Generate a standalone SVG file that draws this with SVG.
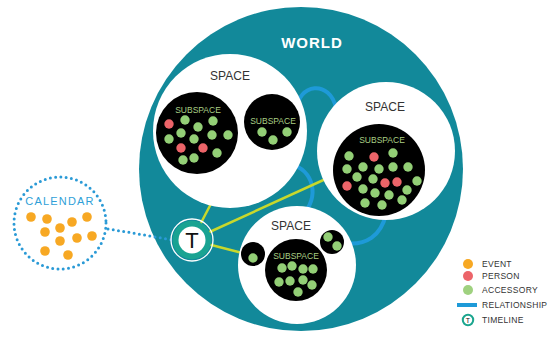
<svg xmlns="http://www.w3.org/2000/svg" width="554" height="338" viewBox="0 0 554 338">
<style>
.world{fill:#12899a}
.space{fill:#ffffff}
.sub{fill:#000000}
.g{fill:#93cf76}
.r{fill:#ec6469}
.o{fill:#f7a823}
.spt{font-family:"Liberation Sans",Arial,sans-serif;font-size:12px;fill:#333333;text-anchor:middle}
.sst{font-family:"Liberation Sans",Arial,sans-serif;font-size:8.5px;fill:#a9cf84;text-anchor:middle}
.rel{fill:none;stroke:#1e9ad8;stroke-width:4;stroke-linecap:round}
.tl{fill:none;stroke:#c8d82c;stroke-width:2.5;stroke-linecap:round}
.dot{fill:none;stroke:#2a9ad6;stroke-width:3;stroke-linecap:round;stroke-dasharray:0 5.3}
.lg{font-family:"Liberation Sans",Arial,sans-serif;font-size:8.5px;fill:#333333;letter-spacing:0.3px}
</style>
<rect width="554" height="338" fill="#ffffff"/>
<g id="world">
<circle class="world" cx="301" cy="169" r="162"/>
<text x="312" y="48" font-family="Liberation Sans,Arial,sans-serif" font-size="15" font-weight="bold" fill="#ffffff" text-anchor="middle" letter-spacing="1">WORLD</text>
</g>
<g id="connectors">
<path class="rel" d="M296,112 C298,82 330,80 336,108"/>
<path class="rel" d="M290,164 C314,170 320,196 302,216"/>
<path class="rel" d="M344,243 C366,246 381,236 386,214"/>
<line class="tl" x1="192" y1="240" x2="214" y2="198"/>
<line class="tl" x1="192" y1="240" x2="330" y2="177"/>
<line class="tl" x1="192" y1="240" x2="250" y2="255"/>
<path class="dot" d="M108,229 Q140,234 172,240"/>
</g>
<g id="space1">
<circle class="space" cx="230" cy="131" r="77"/>
<text class="spt" x="230" y="80">SPACE</text>
<g id="subspace1a">
<circle class="sub" cx="197" cy="133" r="41"/>
<text class="sst" x="198" y="113">SUBSPACE</text>
<circle class="r" cx="169" cy="124" r="4.7"/>
<circle class="g" cx="185" cy="120" r="4.7"/>
<circle class="g" cx="198" cy="127" r="4.7"/>
<circle class="g" cx="213" cy="121" r="4.7"/>
<circle class="g" cx="181" cy="133" r="4.7"/>
<circle class="g" cx="169" cy="139" r="4.7"/>
<circle class="g" cx="194" cy="139" r="4.7"/>
<circle class="g" cx="212" cy="135" r="4.7"/>
<circle class="g" cx="228" cy="135" r="4.7"/>
<circle class="r" cx="181" cy="148" r="4.7"/>
<circle class="r" cx="203" cy="148" r="4.7"/>
<circle class="g" cx="217" cy="153" r="4.7"/>
<circle class="g" cx="183" cy="160" r="4.7"/>
<circle class="g" cx="194" cy="158" r="4.7"/>
</g>
<g id="subspace1b">
<circle class="sub" cx="272" cy="122" r="28"/>
<text class="sst" x="273" y="124">SUBSPACE</text>
<circle class="g" cx="262" cy="132" r="4.7"/>
<circle class="g" cx="273" cy="140" r="4.7"/>
<circle class="g" cx="287" cy="132" r="4.7"/>
</g>
</g>
<g id="space2">
<circle class="space" cx="386" cy="151" r="69"/>
<text class="spt" x="385" y="111">SPACE</text>
<g id="subspace2">
<circle class="sub" cx="379" cy="170" r="46"/>
<text class="sst" x="382" y="143">SUBSPACE</text>
<circle class="g" cx="349" cy="156" r="4.7"/>
<circle class="r" cx="374" cy="157" r="4.7"/>
<circle class="g" cx="393" cy="153" r="4.7"/>
<circle class="g" cx="347" cy="169" r="4.7"/>
<circle class="g" cx="363" cy="167" r="4.7"/>
<circle class="g" cx="379" cy="169" r="4.7"/>
<circle class="g" cx="393" cy="167" r="4.7"/>
<circle class="g" cx="408" cy="167" r="4.7"/>
<circle class="g" cx="357" cy="177" r="4.7"/>
<circle class="g" cx="373" cy="179" r="4.7"/>
<circle class="r" cx="385" cy="183" r="4.7"/>
<circle class="r" cx="397" cy="182" r="4.7"/>
<circle class="g" cx="417" cy="181" r="4.7"/>
<circle class="r" cx="347" cy="186" r="4.7"/>
<circle class="g" cx="363" cy="189" r="4.7"/>
<circle class="g" cx="375" cy="193" r="4.7"/>
<circle class="g" cx="389" cy="195" r="4.7"/>
<circle class="g" cx="407" cy="190" r="4.7"/>
<circle class="g" cx="365" cy="203" r="4.7"/>
<circle class="g" cx="382" cy="205" r="4.7"/>
<circle class="g" cx="402" cy="200" r="4.7"/>
</g>
</g>
<g id="space3">
<circle class="space" cx="297" cy="265" r="59"/>
<text class="spt" x="291" y="230">SPACE</text>
<g id="subspace3a">
<circle class="sub" cx="253" cy="254" r="12"/>
<circle class="g" cx="253" cy="258" r="4.7"/>
</g>
<g id="subspace3b">
<circle class="sub" cx="332" cy="242" r="12"/>
<circle class="g" cx="328" cy="237" r="4.7"/>
<circle class="g" cx="337" cy="246" r="4.7"/>
</g>
<g id="subspace3c">
<circle class="sub" cx="296" cy="270" r="31"/>
<text class="sst" x="296" y="259">SUBSPACE</text>
<circle class="g" cx="282" cy="268" r="4.7"/>
<circle class="g" cx="292" cy="266" r="4.7"/>
<circle class="g" cx="303" cy="269" r="4.7"/>
<circle class="g" cx="313" cy="269" r="4.7"/>
<circle class="g" cx="279" cy="282" r="4.7"/>
<circle class="g" cx="290" cy="281" r="4.7"/>
<circle class="g" cx="303" cy="280" r="4.7"/>
<circle class="g" cx="312" cy="285" r="4.7"/>
<circle class="g" cx="298" cy="292" r="4.7"/>
</g>
</g>
<g id="timeline">
<circle cx="192" cy="240" r="21" fill="none" stroke="#ffffff" stroke-width="1.3"/>
<circle cx="192" cy="240" r="19.3" fill="#19a392"/>
<circle cx="192" cy="240" r="13.5" fill="#ffffff"/>
<text x="192" y="248" font-family="Liberation Sans,Arial,sans-serif" font-size="22" fill="#111111" text-anchor="middle">T</text>
</g>
<g id="calendar">
<circle class="dot" cx="60" cy="223" r="46"/>
<text x="60" y="205" font-family="Liberation Sans,Arial,sans-serif" font-size="11" fill="#2f9fd8" text-anchor="middle" letter-spacing="1.2">CALENDAR</text>
<circle class="o" cx="31" cy="217" r="4.8"/>
<circle class="o" cx="47" cy="219" r="4.8"/>
<circle class="o" cx="72" cy="222" r="4.8"/>
<circle class="o" cx="87" cy="217" r="4.8"/>
<circle class="o" cx="45" cy="232" r="4.8"/>
<circle class="o" cx="60" cy="228" r="4.8"/>
<circle class="o" cx="77" cy="238" r="4.8"/>
<circle class="o" cx="92" cy="236" r="4.8"/>
<circle class="o" cx="60" cy="241" r="4.8"/>
<circle class="o" cx="45" cy="251" r="4.8"/>
<circle class="o" cx="68" cy="255" r="4.8"/>
</g>
<g id="legend">
<circle class="o" cx="468" cy="264" r="5"/>
<text class="lg" x="482" y="267">EVENT</text>
<circle class="r" cx="468" cy="276" r="5"/>
<text class="lg" x="482" y="279">PERSON</text>
<circle cx="468" cy="290" r="5" fill="#9fd17f"/>
<text class="lg" x="482" y="293">ACCESSORY</text>
<rect x="457" y="303" width="20" height="4" fill="#1e9ad8"/>
<text class="lg" x="482" y="308">RELATIONSHIP</text>
<circle cx="468" cy="320" r="5.2" fill="#ffffff" stroke="#1ba58e" stroke-width="2"/>
<text x="468" y="322.6" font-family="Liberation Sans,Arial,sans-serif" font-size="7" fill="#111111" text-anchor="middle">T</text>
<text class="lg" x="482" y="323">TIMELINE</text>
</g>
</svg>
